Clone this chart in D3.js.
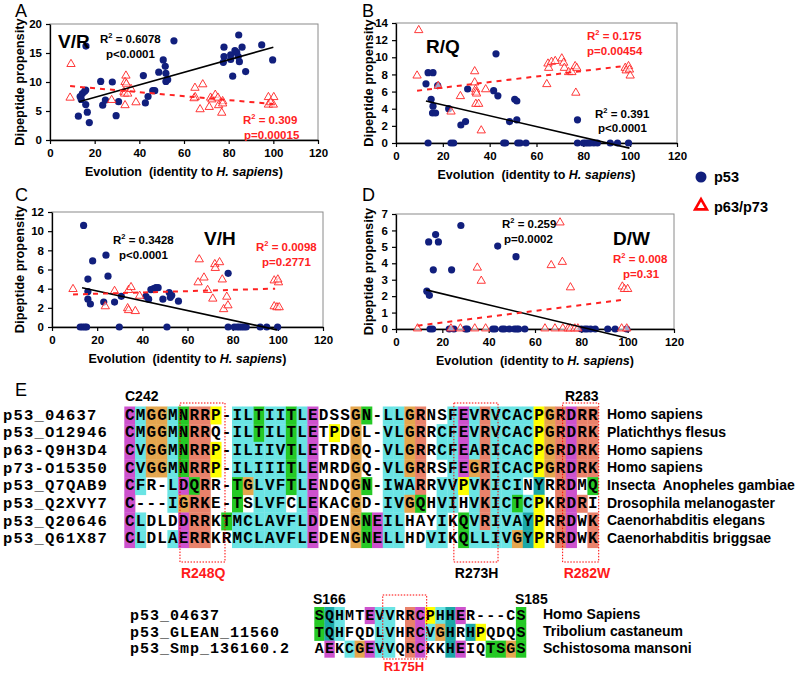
<!DOCTYPE html>
<html><head><meta charset="utf-8">
<script src="https://cdn.jsdelivr.net/npm/d3@7"></script>
<style>body{margin:0;background:#fff}svg{display:block}</style>
</head><body>
<svg id="c" width="800" height="675"></svg>
<script>
// ---------------- DATA ----------------
const xTicks = [0, 20, 40, 60, 80, 100, 120];

const aP53 = [[16.1,16.2],[13.5,7.5],[14,7.0],[14.5,8.0],[15.5,8.4],[16,8.6],[16,6.1],[12.7,4.1],[16.7,4.8],[17.6,3.0],[22.7,10.1],[23.6,6.0],[24.8,6.9],[27.9,10.0],[29.6,4.2],[30.7,6.6],[41.8,11.1],[42.7,6.4],[43.9,7.5],[46,8.5],[46.9,8.5],[48.7,11.7],[50.7,13.8],[51.6,12.7],[51.9,11.5],[51.9,10.1],[52.7,10.4],[55.5,17.1],[77.9,16.0],[77.9,14.4],[77.6,13.4],[80.9,14.7],[80.9,13.9],[81.8,11.0],[82.8,15.4],[84.5,18.1],[83.6,15.1],[84.3,14.4],[84.8,13.5],[86,16.0],[87.6,11.8],[94.8,16.4],[99.7,13.8]];
const aP63 = [[9.4,13.0],[9,7.2],[27.6,6.8],[34,11.0],[33.6,9.9],[34.2,9.6],[33.1,8.2],[33.4,7.9],[34.8,7.9],[33.6,5.9],[36.3,8.7],[38.5,6.4],[64.9,8.9],[65,7.3],[64.5,7.1],[68.4,9.5],[67.2,5.2],[71.3,5.6],[71.9,7.2],[72.5,6.9],[74,7.7],[75.2,7.2],[75.5,5.9],[76.9,4.6],[77.3,6.6],[77.3,6.2],[97.8,7.3],[100.2,7.3],[97.8,6.0],[100,6.0],[98.8,6.4]];
const aTrend53 = [[13,6.6],[100,16.0]];
const aTrend63 = [[9,9.3],[100,6.2]];

const bP53 = [[12.8,6.9],[13.7,8.2],[15.8,8.2],[13.7,0],[15,5.1],[15.8,4.3],[15.6,3.5],[16.9,3.5],[17.8,6.7],[22.5,4.0],[23.5,0],[24.6,0],[27.7,2.1],[29.7,2.5],[30.6,6.3],[41.7,6.1],[42.7,10.4],[43.5,5.5],[46,0],[46.8,0],[48.5,2.5],[50.7,5.1],[51.6,4.9],[51.6,2.7],[52,0],[53,0],[55.5,0],[77.5,2.7],[77.5,0],[80,0],[81,0],[82,0],[83,0],[84.5,0],[86,0],[91.5,0],[94.6,0],[99.3,0]];
const bP63 = [[9.7,13.1],[9,7.8],[18,6.6],[23.5,3.6],[27.5,5.4],[33.6,8.3],[33.6,7.0],[34,6.2],[34.1,5.9],[34.4,5.7],[34.1,4.5],[35.3,4.5],[36.4,1.4],[38.3,6.2],[64.4,6.8],[64.9,9.2],[65.2,8.7],[66.4,9.4],[68,9.5],[70.8,9.8],[71.6,9.3],[71.9,8.7],[73.7,8.2],[75.1,8.2],[76.5,8.9],[77.2,8.7],[76.8,5.8],[97.9,8.7],[99.3,8.9],[98.3,8.4],[99.7,8.5],[100,7.8]];
const bTrend53 = [[12.8,4.9],[99.7,-0.6]];
const bTrend63 = [[9,6.1],[98,9.0]];

const cP53 = [[14,10.6],[12.5,0],[13.5,0],[14.5,0],[15.3,0],[15.9,5.0],[15.9,3.7],[15.9,2.9],[17,2.4],[18,6.9],[22.9,2.6],[23.9,7.5],[24.8,5.3],[27.7,2.6],[29.8,0],[30.7,3.2],[41.6,3.2],[42.8,2.9],[43.8,3.9],[45,4.0],[46,4.1],[47,4.1],[49.1,2.9],[50.9,0],[51.9,3.6],[52.4,3.1],[53,3.3],[56,2.7],[78,5.6],[78,0],[80.7,0],[82,0],[83,0],[84,0],[85,0],[86,0],[92.2,0],[95.1,0],[99.9,0]];
const cP63 = [[9.3,3.9],[23.6,2.1],[27.7,3.7],[33.5,1.9],[33.9,1.7],[33.9,3.8],[35,4.1],[36.9,1.6],[38.8,3.2],[65.2,7.0],[64.7,4.6],[67.3,5.1],[68.9,3.8],[71.2,2.9],[72.1,6.5],[72.3,6.1],[74.2,6.7],[75.4,4.9],[76,1.8],[77.4,3.1],[77.9,2.2],[98.4,4.8],[100.3,4.6],[100,4.9],[98.4,2.1],[99.6,2.0],[100.6,2.0]];
const cTrend53 = [[13.3,4.1],[99.6,-0.3]];
const cTrend63 = [[9.3,3.4],[98.8,4.0]];

const dP53 = [[13.3,2.3],[14.4,2.05],[14.1,5.3],[17.1,5.75],[18.3,5.3],[16.1,3.6],[28,6.3],[24,3.6],[43.9,5.05],[51.8,4.4],[14.7,0],[15.8,0],[23,0],[25,0],[30,0],[30.8,0],[41.8,0],[42.8,0],[45.8,0],[46.8,0],[48.9,0],[51.1,0],[52.1,0],[52.9,0],[55.6,0],[80,0],[81.5,0],[82.5,0],[84,0],[86,0],[91.4,0],[94.6,0],[99.6,0]];
const dP63 = [[9.3,0],[23.7,0],[27.8,0],[34,0],[38.7,0],[35.1,3.7],[36.8,2.9],[64.3,0],[68.6,0],[72,0],[74.3,0],[75.3,0],[77.2,0],[78.5,0],[70.8,6.45],[67,3.85],[71.8,4.05],[75.3,2.5],[97.7,2.55],[98.6,2.4],[100,2.4],[97.4,0],[99.6,0]];
const dTrend53 = [[13,2.38],[99.6,-0.55]];
const dTrend63 = [[9.3,0.2],[98,1.78]];

const panelLetters = ["A", "B", "C", "D"];
const pairLabels = ["V/R", "R/Q", "V/H", "D/W"];
const r2P53 = ["0.6078", "0.391", "0.3428", "0.259"];
const pP53 = ["p<0.0001", "p<0.0001", "p<0.0001", "p=0.0002"];
const r2P63 = ["0.309", "0.175", "0.0098", "0.008"];
const pP63 = ["p=0.00015", "p=0.00454", "p=0.2771", "p=0.31"];
const yMax = [20, 14, 12, 7];
const yStep = [5, 2, 2, 1];
const legendLabels = ["p53", "p63/p73"];

// Alignment (panel E)
const topNames = ["p53_04637","p53_O12946","p63-Q9H3D4","p73-O15350","p53_Q7QAB9","p53_Q2XVY7","p53_Q20646","p53_Q61X87"];
const topSeqs = [
 "CMGGMNRRP-ILTIITLEDSSGN-LLGRNSFEVRVCACPGRDRR",
 "CMGGMNRRQ-ILTILTLETPDGL-VLGRRCFEVRVCACPGRDRK",
 "CVGGMNRRP-ILIIVTLETRDGQ-VLGRRCFEARICACPGRDRK",
 "CVGGMNRRP-ILIIITLEMRDGQ-VLGRRSFEGRICACPGRDRK",
 "CFR-LDQRR-TGLVFTLENDQGN-IWARRVVPVKICINYRRDMQ",
 "C---IGRKE-TSLVFCLEKACGD-IVGQHVIHVKICTCPKRDRI",
 "CLDLDDRRKTMCLAVFLDDENGNEILHAYIKQVRIVAYPRRDWK",
 "CLDLAERRKRMCLAVFLEDENGNELLHDVIKQLLIVGYPRRDWK"];
const topColors = [
 "mcoocgrry.ccgccgcm...og.ccor..cmcrccccyormrr",
 "mcoocgrr..ccgccgcm.y.o..ccor.ccmcrccccyormrr",
 "mcoocgrry.cccccgcm...o..ccor.ccmcrccccyormrr",
 "mcoocgrry.cccccgcm...o..ccor..cmorccccyormrr",
 "mc..cmgr..gocccgcm...og.cccr.ccycrccc.t.rm.g",
 "m...corr..g.ccc.cm...o..ccog.cc.crccgcy.rmr.",
 "mc...mrr.gcccccccm...ogmcc...c.gcrcccty.rm.r",
 "mc..cmrr..cccccccm...ogmcc..cc.gccccoty.rm.r"];
const topSpecies = ["Homo sapiens","Platichthys flesus","Homo sapiens","Homo sapiens","Insecta  Anopheles gambiae","Drosophila melanogaster","Caenorhabditis elegans","Caenorhabditis briggsae"];
const topMarks = [{label:"R248Q", from:5.17, to:9.35, red:true},{label:"R273H", from:30.6, to:34.7, red:false},{label:"R282W", from:40.7, to:44.05, red:true}];
const topEnds = ["C242", "R283"];

const botNames = ["p53_04637","p53_GLEAN_11560","p53_Smp_136160.2"];
const botSeqs = ["SQHMTEVVRRCPHHER---CS","TQHFQDLVHRCVGHRHPQDQS","AEKCGEVVQRCKKHEIQTSGS"];
const botColors = ["gtc..mcc.rmyctm.....g","gtc...cc.rmcot.ty...g",".m.comcc.rm..tm..ggog"];
const botSpecies = ["Homo Sapiens","Tribolium castaneum","Schistosoma mansoni"];
const botMarks = [{label:"R175H", from:6.79, to:11.15, red:true}];
const botEnds = ["S166", "S185"];

// ---------------- DRAW ----------------
const RED = "#ff2222", NAVY = "#111f7d";
const SANS = "Arial, 'Liberation Sans', Helvetica, sans-serif";
const MONO = "'Courier New', 'Liberation Mono', monospace";
const svg = d3.select("#c");

const panelData = [
  {p53:aP53, p63:aP63, t53:aTrend53, t63:aTrend63},
  {p53:bP53, p63:bP63, t53:bTrend53, t63:bTrend63},
  {p53:cP53, p63:cP63, t53:cTrend53, t63:cTrend63},
  {p53:dP53, p63:dP63, t53:dTrend53, t63:dTrend63}];
const layout = [
  {L:50, R:318, T:24, B:140, yl:20, letter:[15,17], lab:[58,48], s53:[100,43,106,58], s63:[243,124,244,139]},
  {L:396, R:677, T:23, B:143, yl:369, letter:[362,17], lab:[426,53], s53:[595,118,598,132], s63:[587,40,587,55]},
  {L:52, R:323, T:212, B:327, yl:20, letter:[15,201], lab:[204,245], s53:[113,244,119,259], s63:[256,251,262,266]},
  {L:396, R:674, T:214, B:329, yl:369, letter:[362,201], lab:[613,245], s53:[502,228,504,243], s63:[613,263,623,278]}];

function r2Text(sel, x, y, val, color) {
  const t = sel.append("text").attr("x", x).attr("y", y).attr("fill", color)
    .attr("font-family", SANS).attr("font-weight", "bold").attr("font-size", 11.5);
  t.append("tspan").text("R");
  t.append("tspan").attr("dy", -5).attr("font-size", 7.5).text("2");
  t.append("tspan").attr("dy", 5).text(" = " + val);
}

panelData.forEach((d, i) => {
  const c = layout[i];
  const x = d3.scaleLinear().domain([0, 120]).range([c.L, c.R]);
  const y = d3.scaleLinear().domain([0, yMax[i]]).range([c.B, c.T]);
  const g = svg.append("g");
  g.append("rect").attr("x", c.L).attr("y", c.T).attr("width", c.R - c.L).attr("height", c.B - c.T)
    .attr("fill", "none").attr("stroke", "#8a8a8a").attr("stroke-width", 1);
  const xa = g.append("g").attr("transform", `translate(0,${c.B})`)
    .call(d3.axisBottom(x).tickValues(xTicks).tickFormat(d3.format("d")).tickSize(4).tickSizeOuter(0).tickPadding(5));
  const ya = g.append("g").attr("transform", `translate(${c.L},0)`)
    .call(d3.axisLeft(y).tickValues(d3.range(0, yMax[i] + 0.001, yStep[i])).tickFormat(d3.format("d")).tickSize(4).tickSizeOuter(0).tickPadding(4));
  [xa, ya].forEach(a => {
    a.select(".domain").attr("stroke", "#000").attr("stroke-width", 1.3);
    a.selectAll(".tick line").attr("stroke", "#000").attr("stroke-width", 1.2);
    a.selectAll(".tick text").attr("font-family", SANS).attr("font-weight", "bold").attr("font-size", 11.5).attr("fill", "#000");
  });
  // axis titles
  const xt = g.append("text").attr("x", (c.L + c.R) / 2).attr("y", c.B + 36).attr("text-anchor", "middle")
    .attr("font-family", SANS).attr("font-weight", "bold").attr("font-size", 12.5).attr("xml:space", "preserve");
  xt.append("tspan").text("Evolution  (identity to ");
  xt.append("tspan").attr("font-style", "italic").text("H. sapiens");
  xt.append("tspan").text(")");
  g.append("text").attr("transform", `translate(${c.yl + 4},${(c.T + c.B) / 2}) rotate(-90)`).attr("text-anchor", "middle")
    .attr("font-family", SANS).attr("font-weight", "bold").attr("font-size", 12.8).text("Dipeptide propensity");
  g.append("text").attr("x", c.letter[0]).attr("y", c.letter[1]).attr("font-family", SANS).attr("font-size", 18).text(panelLetters[i]);

  // markers
  g.append("g").selectAll("circle").data(d.p53).join("circle")
    .attr("cx", p => x(p[0])).attr("cy", p => y(p[1])).attr("r", 3.6).attr("fill", NAVY);
  const tri = d3.symbol().type(d3.symbolTriangle).size(30);
  g.append("g").selectAll("path").data(d.p63).join("path")
    .attr("transform", p => `translate(${x(p[0])},${y(p[1]) - 0.5})`).attr("d", tri)
    .attr("fill", "#fff").attr("fill-opacity", 0.6).attr("stroke", RED).attr("stroke-width", 0.9);
  // trend lines
  const line = d3.line().x(p => x(p[0])).y(p => y(p[1]));
  g.append("path").attr("d", line(d.t53)).attr("stroke", "#000").attr("stroke-width", 1.6).attr("fill", "none");
  g.append("path").attr("d", line(d.t63)).attr("stroke", RED).attr("stroke-width", 2).attr("stroke-dasharray", "5,5").attr("fill", "none");

  // annotations
  g.append("text").attr("x", c.lab[0]).attr("y", c.lab[1]).attr("font-family", SANS).attr("font-weight", "bold")
    .attr("font-size", 19).text(pairLabels[i]);
  r2Text(g, c.s53[0], c.s53[1], r2P53[i], "#000");
  g.append("text").attr("x", c.s53[2]).attr("y", c.s53[3]).attr("font-family", SANS).attr("font-weight", "bold")
    .attr("font-size", 11.5).text(pP53[i]);
  r2Text(g, c.s63[0], c.s63[1], r2P63[i], RED);
  g.append("text").attr("x", c.s63[2]).attr("y", c.s63[3]).attr("font-family", SANS).attr("font-weight", "bold")
    .attr("font-size", 11.5).attr("fill", RED).text(pP63[i]);
});

// legend
const lg = svg.append("g");
lg.append("circle").attr("cx", 701).attr("cy", 177).attr("r", 5.5).attr("fill", NAVY);
lg.append("path").attr("transform", "translate(701,206)").attr("d", d3.symbol().type(d3.symbolTriangle).size(60)())
  .attr("fill", "#fff").attr("stroke", "#ff0000").attr("stroke-width", 2.6);
legendLabels.forEach((t, i) => lg.append("text").attr("x", 714).attr("y", 182 + i * 30)
  .attr("font-family", SANS).attr("font-weight", "bold").attr("font-size", 14.5).text(t));

// Panel E letter
svg.append("text").attr("x", 15).attr("y", 396).attr("font-family", SANS).attr("font-size", 18).text("E");

const colorMap = {m:"#cd52cd", c:"#6ae4e4", o:"#e4a64e", r:"#e9826b", g:"#25c925", y:"#ffff00", t:"#1ba8a8"};

function alignment(cfg) {
  const n = cfg.seqs[0].length;
  const xb = d3.scaleBand().domain(d3.range(n)).range([cfg.x0, cfg.x0 + n * cfg.cw]);
  const yb = d3.scaleBand().domain(d3.range(cfg.seqs.length)).range([cfg.y0, cfg.y0 + cfg.seqs.length * cfg.rh]);
  const colX = v => cfg.x0 + v * cfg.cw;
  const g = svg.append("g");
  cfg.seqs.forEach((s, r) => {
    const cells = s.split("").map((ch, k) => ({ch, k, col: cfg.colors[r][k]}));
    g.append("g").selectAll("rect").data(cells.filter(c => colorMap[c.col])).join("rect")
      .attr("x", c => xb(c.k)).attr("y", yb(r)).attr("width", xb.bandwidth() + 0.3).attr("height", yb.bandwidth() + 0.3)
      .attr("fill", c => colorMap[c.col]);
    g.append("g").selectAll("text").data(cells).join("text")
      .attr("x", c => xb(c.k) + xb.bandwidth() / 2).attr("y", yb(r) + cfg.base).attr("text-anchor", "middle")
      .attr("font-family", MONO).attr("font-weight", "bold").attr("font-size", cfg.fs).text(c => c.ch);
    g.append("text").attr("x", cfg.nx).attr("y", yb(r) + cfg.base).attr("font-family", MONO).attr("font-weight", "bold")
      .attr("font-size", cfg.nfs).attr("letter-spacing", cfg.nls).text(cfg.names[r]);
    g.append("text").attr("x", cfg.sx).attr("y", yb(r) + cfg.base - 0.5).attr("font-family", SANS).attr("font-weight", "bold")
      .attr("font-size", 14).attr("xml:space", "preserve").text(cfg.species[r]);
  });
  cfg.marks.forEach(m => {
    g.append("rect").attr("x", colX(m.from)).attr("y", cfg.boxT).attr("width", colX(m.to) - colX(m.from))
      .attr("height", cfg.boxB - cfg.boxT).attr("fill", "none").attr("stroke", "#ff0000").attr("stroke-width", 1)
      .attr("stroke-dasharray", "1.5,1.5");
    g.append("text").attr("x", colX(m.from) + 1).attr("y", cfg.labY).attr("font-family", SANS).attr("font-weight", "bold")
      .attr("font-size", cfg.labFs).attr("fill", m.red ? "#ff1a1a" : "#000").text(m.label);
  });
  g.append("text").attr("x", cfg.endX[0]).attr("y", cfg.endY).attr("font-family", SANS).attr("font-weight", "bold")
    .attr("font-size", 14).text(cfg.ends[0]);
  g.append("text").attr("x", cfg.endX[1]).attr("y", cfg.endY).attr("font-family", SANS).attr("font-weight", "bold")
    .attr("font-size", 14).text(cfg.ends[1]);
}

alignment({seqs: topSeqs, colors: topColors, names: topNames, species: topSpecies, marks: topMarks, ends: topEnds,
  x0: 124.3, cw: 10.77, y0: 406.5, rh: 17.66, base: 13.3, fs: 16, nfs: 15.5, nls: 1.2, nx: 3, sx: 607,
  boxT: 403, boxB: 562, labY: 578, labFs: 14, endX: [125, 565], endY: 401});
alignment({seqs: botSeqs, colors: botColors, names: botNames, species: botSpecies, marks: botMarks, ends: botEnds,
  x0: 314.3, cw: 10.08, y0: 607, rh: 16.8, base: 12.8, fs: 15, nfs: 15, nls: 1.0, nx: 130, sx: 543,
  boxT: 595, boxB: 659, labY: 671, labFs: 13, endX: [313, 515], endY: 604});
</script>
</body></html>
